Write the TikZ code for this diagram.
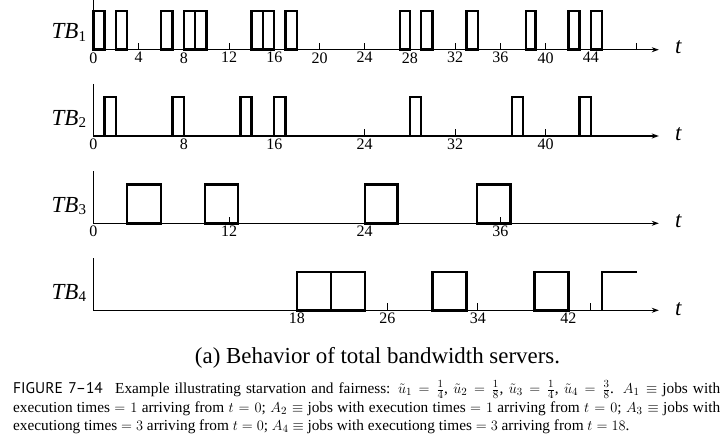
\documentclass[tikz,border=0pt]{standalone}
\usepackage{fontspec}
\setmainfont{Liberation Serif}
\newfontfamily\figsans{PT Sans}
\usetikzlibrary{arrows.meta}
\begin{document}
\begin{tikzpicture}[x=1pt,y=-1pt,
  axisline/.style={line width=1.1pt},
  jobbox/.style={line width=2.4pt},
  tickmark/.style={line width=0.9pt},
  ticklabel/.style={font=\fontsize{16}{18}\selectfont, inner sep=0pt, anchor=north},
  rowlabel/.style={font=\fontsize{23}{26}\selectfont\itshape, inner sep=0pt, anchor=base west},
  tlabel/.style={font=\fontsize{23}{26}\selectfont\itshape, inner sep=0pt, anchor=base west},
  arr/.style={-{Stealth[length=7pt,width=5pt]}}]
\path[use as bounding box] (0,0) rectangle (726,436);

% ---------- TB1 ----------
\node[rowlabel] (lab1) at (51.5,39) {TB\raisebox{-0.25ex}{\fontsize{15}{16}\selectfont\upshape 1}};
\begin{scope}[shift={(93.3pt,-49.7pt)}, x=11.31pt, y=-1pt]
  \coordinate (o1) at (0,0);
  \coordinate (top1) at (0,-49.7);
  \coordinate (end1) at (50.0,0);
  \foreach \a/\b in {0/1,2/3,6/7,8/9,9/10,14/15,15/16,17/18,27.1/28,29/30,33/34,38.25/39.1,42/43,44/45}
    \draw[jobbox] (\a,0) rectangle (\b,-38.7);
  \foreach \k in {4,8,...,48} \draw[tickmark] (\k,0) -- (\k,-6.6);
  \foreach \k in {0,4,...,44} \node[ticklabel] (l1-\k) at (\k,2.5) {\k};
  \draw[axisline] (top1) -- (o1);
  \draw[axisline,arr] (o1) -- (end1);
\end{scope}
\node[tlabel] (t1) at (675,53.5) {t};

% ---------- TB2 ----------
\node[rowlabel] (lab2) at (51.5,125) {TB\raisebox{-0.25ex}{\fontsize{15}{16}\selectfont\upshape 2}};
\begin{scope}[shift={(93.3pt,-136pt)}, x=11.31pt, y=-1pt]
  \coordinate (o2) at (0,0);
  \coordinate (top2) at (0,-52);
  \coordinate (end2) at (50.0,0);
  \foreach \a/\b in {1/2,7/8,13/14,16/17,28/29,37/38,43/44}
    \draw[jobbox] (\a,0) rectangle (\b,-38.7);
  \foreach \k in {8,16,...,40} \draw[tickmark] (\k,0) -- (\k,-6.6);
  \foreach \k in {0,8,...,40} \node[ticklabel] (l2-\k) at (\k,2.5) {\k};
  \draw[axisline] (top2) -- (o2);
  \draw[axisline,arr] (o2) -- (end2);
\end{scope}
\node[tlabel] (t2) at (675,140.5) {t};

% ---------- TB3 ----------
\node[rowlabel] (lab3) at (51.5,212.3) {TB\raisebox{-0.25ex}{\fontsize{15}{16}\selectfont\upshape 3}};
\begin{scope}[shift={(93.3pt,-223.3pt)}, x=11.31pt, y=-1pt]
  \coordinate (o3) at (0,0);
  \coordinate (top3) at (0,-52.3);
  \coordinate (end3) at (50.0,0);
  \foreach \a/\b in {3/6,9.9/12.8,24/26.9,33.9/36.9}
    \draw[jobbox] (\a,0) rectangle (\b,-38.7);
  \foreach \k in {12,24,36} \draw[tickmark] (\k,0) -- (\k,-6);
  \foreach \k in {0,12,24,36} \node[ticklabel] (l3-\k) at (\k,2.5) {\k};
  \draw[axisline] (top3) -- (o3);
  \draw[axisline,arr] (o3) -- (end3);
\end{scope}
\node[tlabel] (t3) at (675,227.5) {t};

% ---------- TB4 ----------
\node[rowlabel] (lab4) at (51.5,299) {TB\raisebox{-0.25ex}{\fontsize{15}{16}\selectfont\upshape 4}};
\begin{scope}[shift={(93.3pt,-310.3pt)}, x=11.31pt, y=-1pt]
  \coordinate (o4) at (0,0);
  \coordinate (top4) at (0,-52);
  \coordinate (end4) at (50.0,0);
  \foreach \a/\b in {18/21,21/24,30/33,39/42}
    \draw[jobbox] (\a,0) rectangle (\b,-38.3);
  \draw[jobbox] (45,0) -- (45,-38.3) -- (48.1,-38.3);
  \foreach \k in {26,34,42,44} \draw[tickmark] (\k,0) -- (\k,-7);
  \foreach \k in {18,26,34,42} \node[ticklabel] (l4-\k) at (\k,2.5) {\k};
  \draw[axisline] (top4) -- (o4);
  \draw[axisline,arr] (o4) -- (end4);
\end{scope}
\node[tlabel] (t4) at (675,315) {t};

% ---------- captions ----------
\node[font=\fontsize{22.9}{26}\selectfont, inner sep=0pt, anchor=base] (cap) at (377.5,363.3) {(a) Behavior of total bandwidth servers.};

\node[inner sep=0pt, anchor=north west, text width=707pt, align=justify,
      font=\fontsize{15.3}{18.7}\selectfont] (fig) at (13,380.5) {%
{\figsans\fontsize{15.5}{18.7}\selectfont FIGURE 7\textendash 14}\hspace{0.8em}Example illustrating starvation and fairness: $\tilde{u}_1=\frac{1}{4}$, $\tilde{u}_2=\frac{1}{8}$, $\tilde{u}_3=\frac{1}{4}$, $\tilde{u}_4=\frac{3}{8}$. $A_1\equiv$ jobs with\linebreak
execution times $=1$ arriving from $t=0$; $A_2\equiv$ jobs with execution times $=1$ arriving from $t=0$; $A_3\equiv$ jobs with\linebreak
executiong times $=3$ arriving from $t=0$; $A_4\equiv$ jobs with executiong times $=3$ arriving from $t=18$.};
\end{tikzpicture}
\end{document}
